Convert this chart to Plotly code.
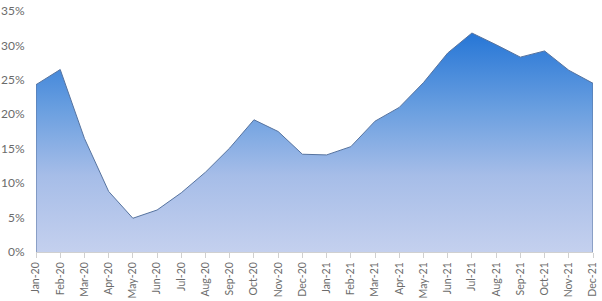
import plotly.graph_objects as go

months = ["Jan-20", "Feb-20", "Mar-20", "Apr-20", "May-20", "Jun-20", "Jul-20", "Aug-20",
          "Sep-20", "Oct-20", "Nov-20", "Dec-20", "Jan-21", "Feb-21", "Mar-21", "Apr-21",
          "May-21", "Jun-21", "Jul-21", "Aug-21", "Sep-21", "Oct-21", "Nov-21", "Dec-21"]
values = [24.3, 26.5, 16.5, 8.8, 4.9, 6.1, 8.6, 11.6,
          15.1, 19.2, 17.5, 14.2, 14.1, 15.3, 19.0, 21.0,
          24.6, 28.9, 31.8, 30.1, 28.3, 29.2, 26.4, 24.5]
y_ticks = [0, 5, 10, 15, 20, 25, 30, 35]
y_labels = [f"{v}%" for v in y_ticks]

# closed outline (area edges like Excel)
xs = [months[0]] + months + [months[-1]]
ys = [0] + values + [0]

fig = go.Figure()
fig.add_trace(go.Scatter(
    x=xs, y=ys, mode="lines", fill="toself",
    line=dict(color="#56739f", width=1),
    fillgradient=dict(
        type="vertical", start=0, stop=max(values),
        colorscale=[[0, "#c4d0ee"], [0.35, "#a6bde8"], [0.65, "#6a9fe0"], [1, "#2676d6"]],
    ),
    hoverinfo="skip", showlegend=False,
))

fig.update_layout(
    width=602, height=301,
    margin=dict(l=36, r=9, t=11, b=49),
    paper_bgcolor="white", plot_bgcolor="white",
    font=dict(family="Lato, Open Sans, sans-serif", size=11, color="#6b6b6b"),
    showlegend=False,
)
fig.update_xaxes(
    type="category", categoryorder="array", categoryarray=months,
    range=[0, len(months) - 1], automargin=False,
    tickangle=-90, ticks="outside", ticklen=5, tickcolor="#d0d0d0",
    ticklabelstandoff=0,
    showline=True, linecolor="#d0d0d0", linewidth=1,
    showgrid=False, zeroline=False,
    tickfont=dict(size=10.5, color="#6b6b6b"),
)
fig.update_yaxes(
    range=[0, 35], tickvals=y_ticks, ticktext=y_labels, automargin=False,
    ticks="outside", ticklen=8, tickcolor="rgba(0,0,0,0)",
    showgrid=False, zeroline=False, showline=False,
    tickfont=dict(size=12, color="#6b6b6b"),
)

fig.write_html("out.html")
